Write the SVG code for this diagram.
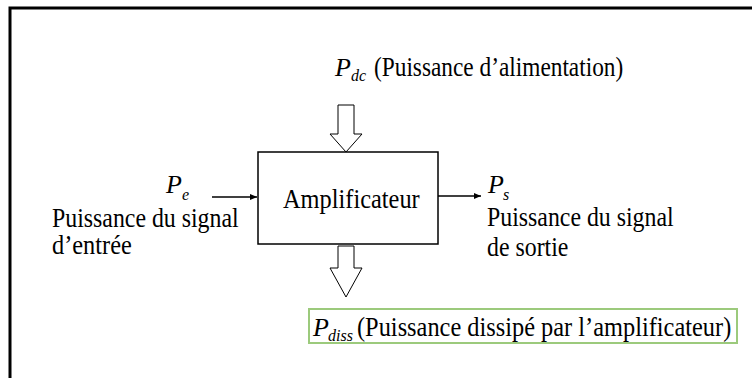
<svg xmlns="http://www.w3.org/2000/svg" width="752" height="378" viewBox="0 0 752 378">
<defs>
<style>
.blk{fill:#fff;stroke:#000;stroke-width:1.5}
.fat{fill:#fff;stroke:#000;stroke-width:1}
.ln{stroke:#000;stroke-width:1.5;fill:none}
</style>
<marker id="ah" markerWidth="8" markerHeight="8" refX="7" refY="4" orient="auto" markerUnits="userSpaceOnUse">
<path d="M0,1 L7,4 L0,7 Z" fill="#000"/>
</marker>
</defs>
<rect width="752" height="378" fill="#fff"/>
<path d="M10,378 V8 H752" fill="none" stroke="#000" stroke-width="3"/>

<g id="amplificateur">
<rect class="blk" x="258" y="152" width="180" height="92"/>
<text font-family="Liberation Serif" font-size="26.5" transform="translate(283,208) scale(0.92,1)">Amplificateur</text>
</g>

<g id="pdc">
<text font-family="Liberation Serif" font-size="26" font-style="italic" x="335" y="76">P</text>
<text font-family="Liberation Serif" font-size="16" font-style="italic" x="351" y="81">dc</text>
<text font-family="Liberation Serif" font-size="26.5" transform="translate(374,76) scale(0.88,1)">(Puissance d’alimentation)</text>
</g>

<g id="pe">
<text font-family="Liberation Serif" font-size="26" font-style="italic" x="166" y="193">P</text>
<text font-family="Liberation Serif" font-size="16" font-style="italic" x="182" y="200">e</text>
<text font-family="Liberation Serif" font-size="26.5" transform="translate(52,227) scale(0.9,1)">Puissance du signal</text>
<text font-family="Liberation Serif" font-size="26.5" transform="translate(52,254) scale(0.92,1)">d’entrée</text>
</g>

<g id="ps">
<text font-family="Liberation Serif" font-size="26" font-style="italic" x="488" y="193">P</text>
<text font-family="Liberation Serif" font-size="16" font-style="italic" x="503" y="200">s</text>
<text font-family="Liberation Serif" font-size="26.5" transform="translate(487,226) scale(0.9,1)">Puissance du signal</text>
<text font-family="Liberation Serif" font-size="26.5" transform="translate(487,256) scale(0.9,1)">de sortie</text>
</g>

<g id="pdiss">
<rect x="309" y="309" width="428" height="34" fill="#fff" stroke="#9cca7c" stroke-width="2"/>
<text font-family="Liberation Serif" font-size="26" font-style="italic" x="313" y="336">P</text>
<text font-family="Liberation Serif" font-size="16" font-style="italic" x="328" y="341">diss</text>
<text font-family="Liberation Serif" font-size="26.5" transform="translate(357,336) scale(0.92,1)">(Puissance dissipé par l’amplificateur)</text>
</g>

<g id="connectors">
<line class="ln" x1="212" y1="197" x2="257" y2="197" marker-end="url(#ah)"/>
<line class="ln" x1="438" y1="196" x2="481" y2="196" marker-end="url(#ah)"/>
<path class="fat" d="M338,105 H354 V134 H362 L346,152 L330,134 H338 Z"/>
<path class="fat" d="M338,246 H354 V268 H362 L346,297 L330,268 H338 Z"/>
</g>
</svg>
